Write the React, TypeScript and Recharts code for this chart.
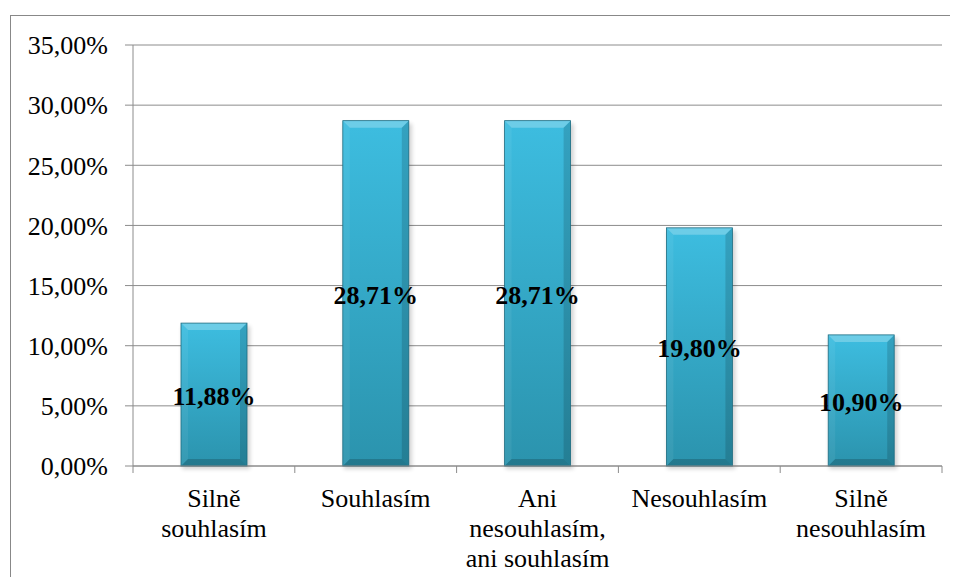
import { BarChart, Bar, XAxis, YAxis, CartesianGrid, LabelList } from 'recharts'

// survey answers and their share of respondents
const answers = [
  'Silně\nsouhlasím',
  'Souhlasím',
  'Ani\nnesouhlasím,\nani souhlasím',
  'Nesouhlasím',
  'Silně\nnesouhlasím',
]
const shares = [0.1188, 0.2871, 0.2871, 0.198, 0.109]
const yTicks = [0, 0.05, 0.1, 0.15, 0.2, 0.25, 0.3, 0.35]

const data = answers.map((answer, i) => ({ answer, share: shares[i] }))

const FONT = 'Liberation Serif, Tinos, DejaVu Serif, serif'
const GRID = '#8c8c8c'

const pct = (v: number) => (v * 100).toFixed(2).replace('.', ',') + '%'

// bar with a bevelled edge and a soft shadow underneath
const BevelBar = (props: any) => {
  const { x, y, width: w, height: h } = props
  if (!h || h <= 0) return null
  const b = 7
  return (
    <g>
      <rect x={x + 1} y={y + 3} width={w + 2} height={h} fill="#000" opacity={0.18} filter="url(#barShadow)" />
      <rect x={x} y={y} width={w} height={h} fill="url(#barFill)" />
      <polygon points={`${x},${y} ${x + w},${y} ${x + w - b},${y + b} ${x + b},${y + b}`} fill="#fff" opacity={0.25} />
      <polygon points={`${x},${y} ${x + b},${y + b} ${x + b},${y + h - b} ${x},${y + h}`} fill="#fff" opacity={0.06} />
      <polygon points={`${x + w},${y} ${x + w},${y + h} ${x + w - b},${y + h - b} ${x + w - b},${y + b}`} fill="#000" opacity={0.14} />
      <polygon points={`${x},${y + h} ${x + w},${y + h} ${x + w - b},${y + h - b} ${x + b},${y + h - b}`} fill="#000" opacity={0.18} />
      <rect x={x} y={y} width={w} height={h} fill="none" stroke="#1d6c80" strokeWidth={0.8} />
    </g>
  )
}

// category label plus the boundary tick marks between categories
const CategoryTick = (props: any) => {
  const { x, y, payload, index } = props
  const half = payload?.offset || 80.9
  const lines = String(payload.value).split('\n')
  return (
    <g>
      <line x1={x - half} y1={y} x2={x - half} y2={y + 7} stroke={GRID} />
      {index === answers.length - 1 && <line x1={x + half} y1={y} x2={x + half} y2={y + 7} stroke={GRID} />}
      <text x={x} y={y + 41} textAnchor="middle" fontFamily={FONT} fontSize={26} fill="#000">
        {lines.map((l, i) => (
          <tspan key={i} x={x} dy={i === 0 ? 0 : 30}>
            {l}
          </tspan>
        ))}
      </text>
    </g>
  )
}

const ValueLabel = (props: any) => {
  const { x, y, width, height, value } = props
  return (
    <text x={x + width / 2} y={y + height / 2 + 10.5} textAnchor="middle" fontFamily={FONT} fontSize={26} fontWeight="bold" fill="#000">
      {pct(value)}
    </text>
  )
}

export default function App() {
  return (
    <div style={{ paddingTop: 7, paddingLeft: 2, width: 942, fontFamily: FONT }}>
      <div style={{ width: 939, height: 561, borderTop: '1px solid #888', borderLeft: '1px solid #888', background: '#fff' }}>
        <BarChart width={939} height={561} data={data} margin={{ top: 29, right: 8, left: 0, bottom: 0 }}>
          <defs>
            <linearGradient id="barFill" x1="0" y1="0" x2="0" y2="1">
              <stop offset="0" stopColor="#3dbde0" />
              <stop offset="1" stopColor="#2b93ad" />
            </linearGradient>
            <filter id="barShadow" x="-20%" y="-20%" width="140%" height="140%">
              <feGaussianBlur stdDeviation="2" />
            </filter>
          </defs>
          <CartesianGrid vertical={false} stroke={GRID} strokeWidth={1} />
          <XAxis
            dataKey="answer"
            height={111}
            interval={0}
            tickLine={false}
            tickSize={0}
            tickMargin={0}
            axisLine={{ stroke: GRID }}
            tick={<CategoryTick />}
          />
          <YAxis
            width={122}
            domain={[0, 0.35]}
            ticks={yTicks}
            tickFormatter={pct}
            tickSize={8}
            tickMargin={17}
            axisLine={{ stroke: GRID }}
            tickLine={{ stroke: GRID }}
            tick={{ fontFamily: FONT, fontSize: 26, fill: '#000' }}
          />
          <Bar dataKey="share" barSize={66} shape={<BevelBar />} isAnimationActive={false}>
            <LabelList dataKey="share" content={<ValueLabel />} />
          </Bar>
        </BarChart>
      </div>
    </div>
  )
}
